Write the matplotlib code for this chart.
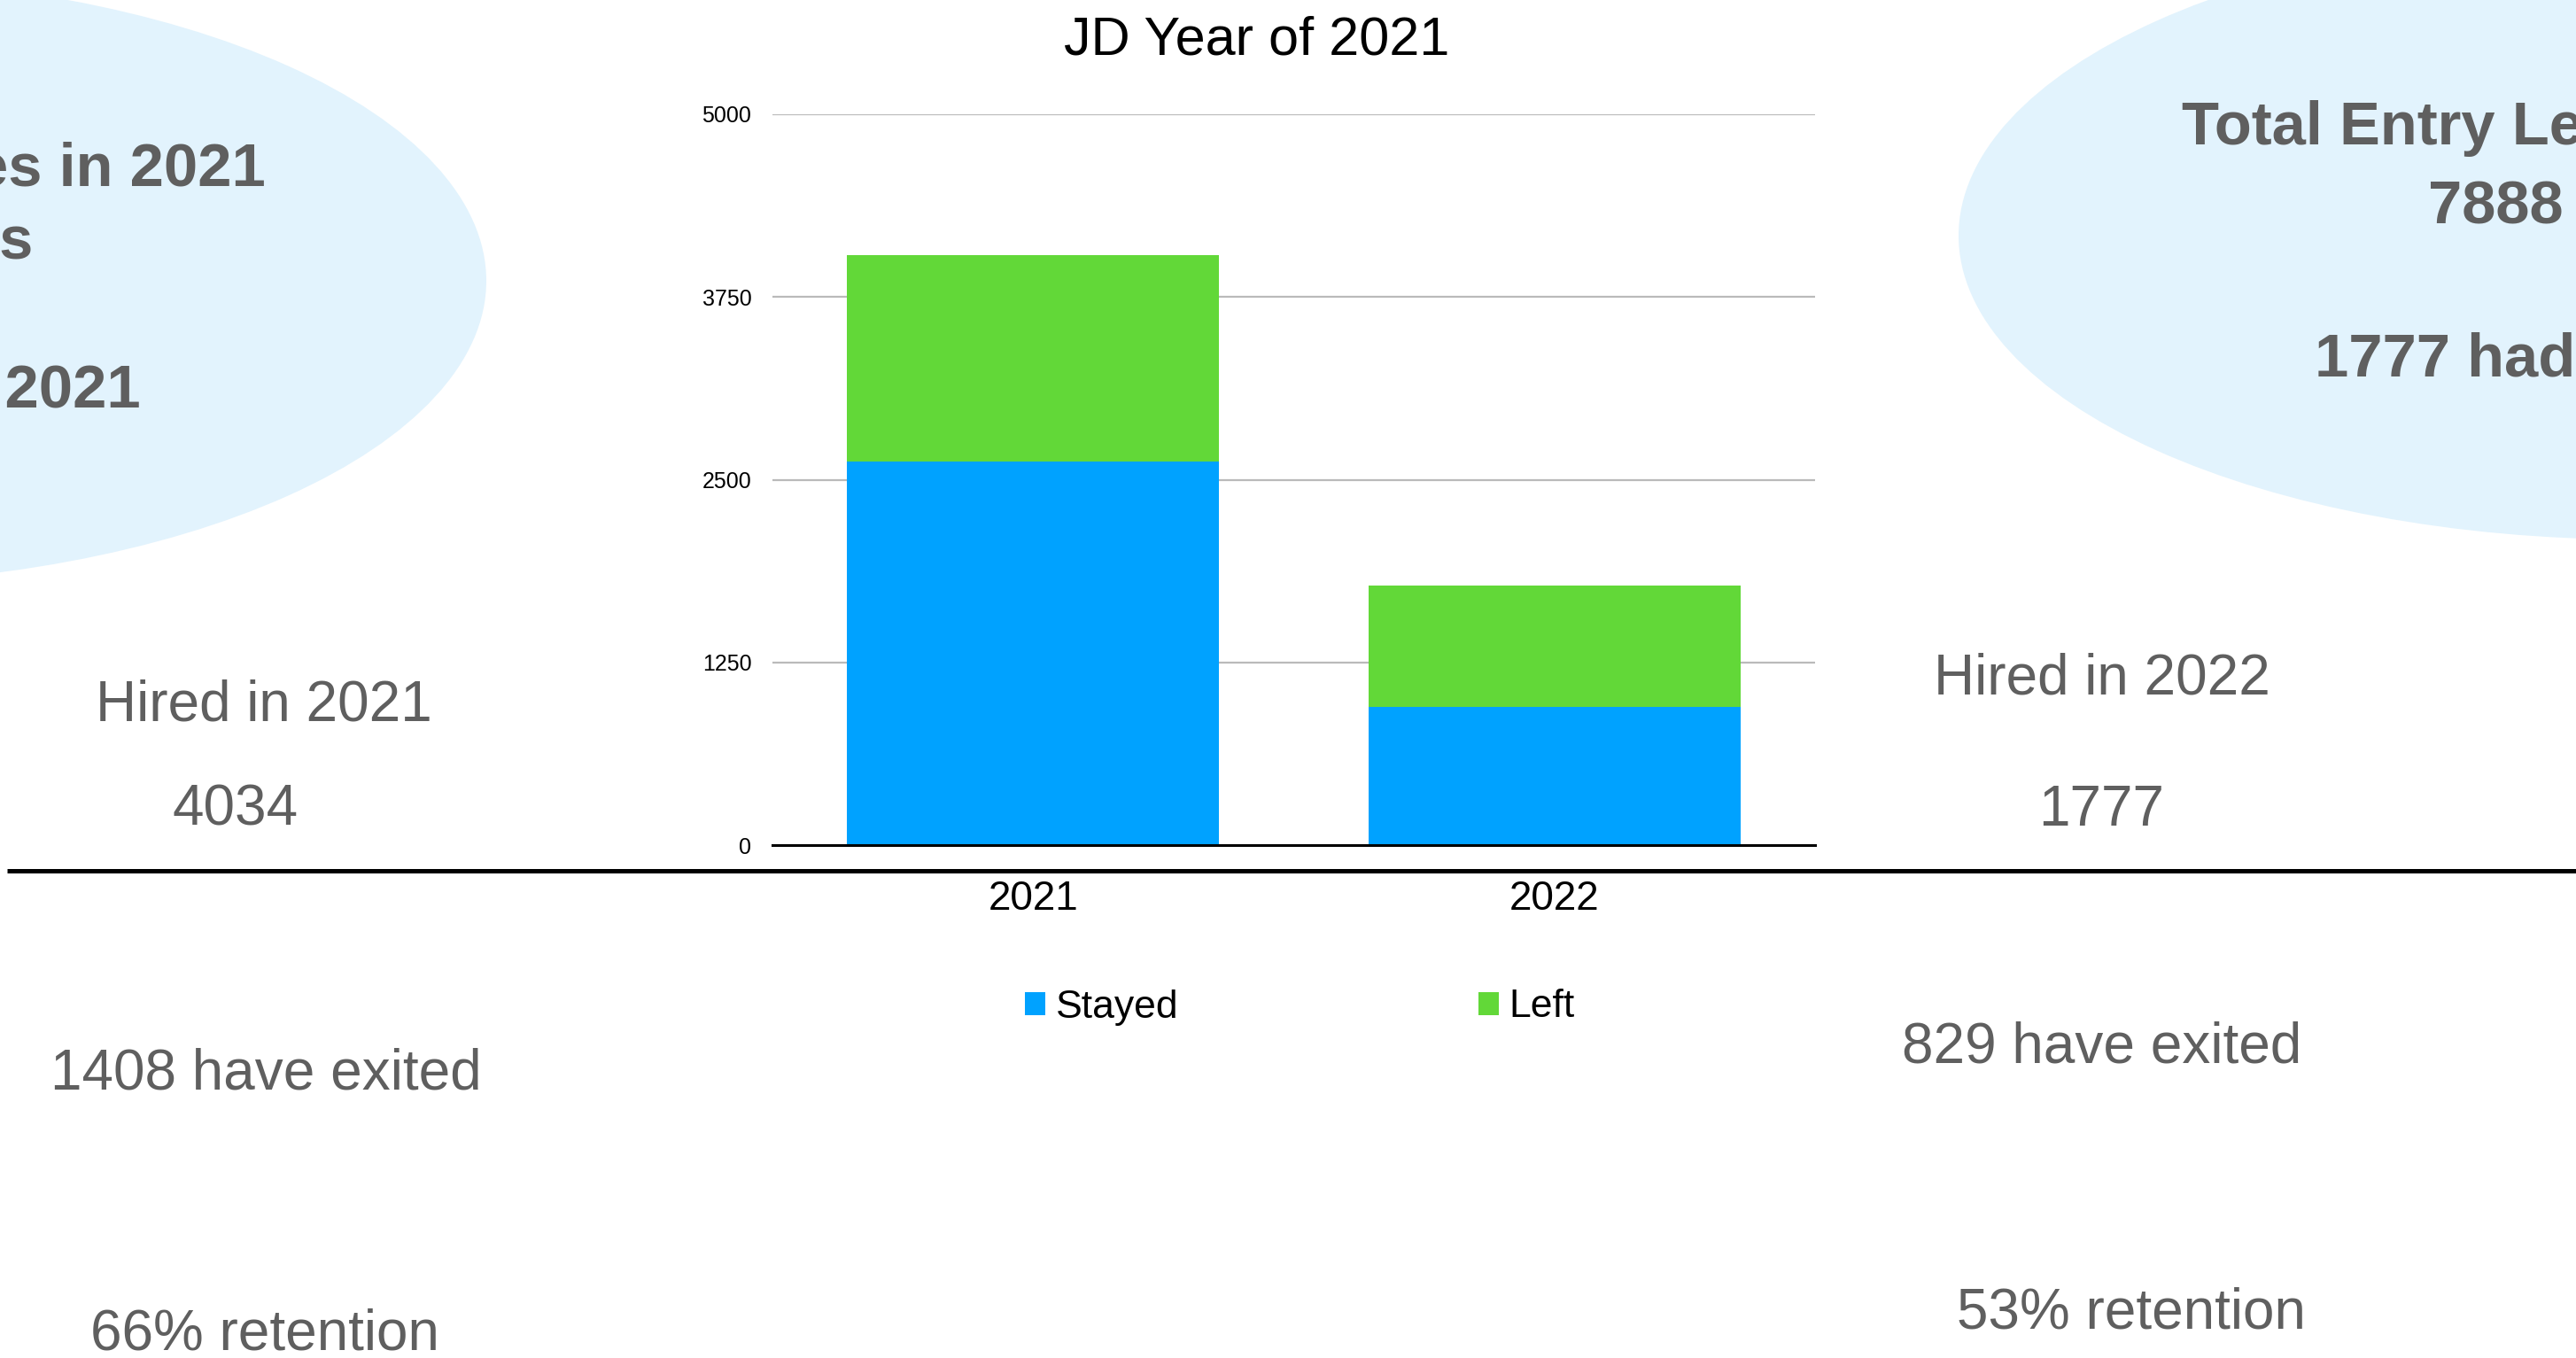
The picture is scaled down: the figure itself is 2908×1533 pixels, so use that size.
import matplotlib.pyplot as plt
from matplotlib.patches import Ellipse

# hires by year, split into who stayed and who left
years = ['2021', '2022']
stayed = [2626, 948]
left = [1408, 829]
y_ticks = [0, 1250, 2500, 3750, 5000]

W, H = 2908, 1533
BLUE = '#00A2FF'
GREEN = '#62D838'
GREY = '#5f5f5f'
PALE = '#e2f3fd'

plt.rcParams['font.family'] = ['Liberation Sans', 'DejaVu Sans']

fig = plt.figure(figsize=(W / 100, H / 100), dpi=100)

# slide background, drawn in pixel coordinates
bg = fig.add_axes([0, 0, 1, 1])
bg.set_xlim(0, W)
bg.set_ylim(H, 0)
bg.axis('off')
bg.add_patch(Ellipse((-215, 317), 1528, 686, color=PALE, lw=0))
bg.add_patch(Ellipse((2975, 266), 1528, 686, color=PALE, lw=0))
bg.plot([8, W], [983, 983], color='black', lw=3.6, solid_capstyle='butt')


def note(x, y, s, ha='center', bold=False, size=46):
    bg.text(x, y, s, ha=ha, va='baseline', color=GREY, fontsize=size,
            fontweight='bold' if bold else 'normal')


# bubble captions (run off the slide edges)
note(300, 210, 'Entry Level Hires in 2021', ha='right', bold=True, size=49.5)
note(37, 292, '4034 hires', ha='right', bold=True, size=49.5)
note(159, 460, '4034 joined in 2021', ha='right', bold=True, size=49.5)
note(2463, 163, 'Total Entry Level Hires', ha='left', bold=True, size=49.5)
note(2741, 251, '7888 hires', ha='left', bold=True, size=49.5)
note(2613, 425, '1777 had joined', ha='left', bold=True, size=49.5)

# side notes
note(298, 813, 'Hired in 2021')
note(266, 932, '4034')
note(300, 1230, '1408 have exited')
note(299, 1524, '66% retention')
note(2373, 784, 'Hired in 2022')
note(2372, 932, '1777')
note(2373, 1200, '829 have exited')
note(2406, 1500, '53% retention')

# stacked bar chart
ax = fig.add_axes([872 / W, 1 - 954 / H, (2049 - 872) / W, (954 - 129) / H])
x = range(len(years))
ax.bar(x, stayed, width=0.713, color=BLUE, label='Stayed', zorder=3)
ax.bar(x, left, width=0.713, bottom=stayed, color=GREEN, label='Left', zorder=3)
ax.set_xlim(-0.5, 1.5)
ax.set_ylim(0, 5000)
ax.set_xticks(list(x), years)
ax.set_yticks(y_ticks, [str(t) for t in y_ticks])
ax.tick_params(axis='y', length=0, pad=17, labelsize=18)
ax.tick_params(axis='x', length=0, pad=28, labelsize=33)
ax.yaxis.grid(True, color='#bababa', lw=1.6)
ax.set_axisbelow(True)
for side in ['top', 'left', 'right']:
    ax.spines[side].set_visible(False)
ax.spines['bottom'].set_color('black')
ax.spines['bottom'].set_linewidth(2.2)
ax.spines['bottom'].set_zorder(4)

fig.text(1419 / W, 1 - 62 / H, 'JD Year of 2021', ha='center', va='baseline',
         fontsize=44, color='black')

ax.legend(loc='center left', bbox_to_anchor=(1157 / W, 1 - 1137 / H),
          bbox_transform=fig.transFigure, ncol=2, frameon=False, fontsize=32,
          handlelength=0.52, handleheight=0.52, handletextpad=0.27,
          columnspacing=7.6, borderpad=0, borderaxespad=0)

fig.savefig('out.png', dpi=100)
